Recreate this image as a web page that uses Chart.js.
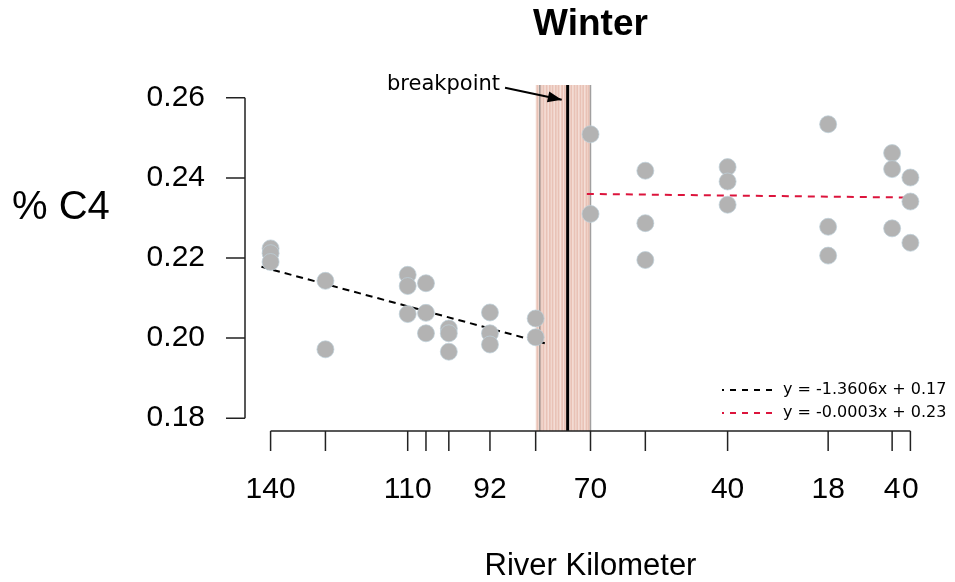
<!DOCTYPE html>
<html>
<head>
<meta charset="utf-8">
<script src="https://cdn.jsdelivr.net/npm/chart.js@4.4.1/dist/chart.umd.min.js"></script>
<style>
  body { margin: 0; background: #fff; }
  #wrap { width: 955px; height: 582px; position: relative; }
</style>
</head>
<body>
<div id="wrap"><canvas id="c4Chart"></canvas></div>
<script>
// river kilometre / %C4 samples (winter)
const pointKm = [140, 140, 140, 128, 128, 110, 110, 110, 106, 106, 106, 101, 101, 101, 92, 92, 92, 82, 82,
                 70, 70, 58, 58, 58, 40, 40, 40, 18, 18, 18, 4, 4, 4, 0, 0, 0];
const pointC4 = [0.2224, 0.2212, 0.2190, 0.2143, 0.1972, 0.2158, 0.2130, 0.2060, 0.2137, 0.2063, 0.2012,
                 0.2024, 0.2012, 0.1966, 0.2064, 0.2012, 0.1984, 0.2049, 0.2002,
                 0.2509, 0.2310, 0.2418, 0.2287, 0.2195, 0.2427, 0.2391, 0.2333, 0.2534, 0.2278, 0.2206,
                 0.2462, 0.2422, 0.2274, 0.2401, 0.2341, 0.2238];

// fitted segments either side of the breakpoint
const upFitKm = [142, 80];
const upFitC4 = [0.2178, 0.1987];
const downFitKm = [70.8, 0.5];
const downFitC4 = [0.2360, 0.2351];
const fitLabels = ['y = -1.3606x + 0.17', 'y = -0.0003x + 0.23'];

const breakpointKm = 75;
const bandKm = [82, 70];
const bootKm = [81.6, 80.9, 80.3, 79.6, 78.9, 78.3, 77.6, 77.0, 76.2, 75.6, 74.2, 73.5, 72.9, 72.2, 71.6, 70.9, 70.4];

const xTicks = [140, 128, 110, 106, 101, 92, 82, 70, 58, 40, 18, 4, 0];
const xLabelled = [140, 110, 92, 70, 40, 18, 4, 0];
const yTicks = [0.18, 0.20, 0.22, 0.24, 0.26];

const SANS = '"Liberation Sans", Arial, Helvetica, sans-serif';
const VERD = '"DejaVu Sans", Verdana, sans-serif';
const RED = '#dc143c';

const toXY = (xs, ys) => xs.map((x, i) => ({ x: x, y: ys[i] }));

const riverPlugin = {
    id: 'riverPlugin',
    beforeDatasetsDraw(chart) {
        const { ctx, chartArea, scales: { x, y } } = chart;
        const top = chartArea.top, bottom = chartArea.bottom;
        ctx.save();
        // bootstrap breakpoint band
        const bl = x.getPixelForValue(bandKm[0]), br = x.getPixelForValue(bandKm[1]);
        ctx.fillStyle = 'rgb(246,226,219)';
        ctx.fillRect(bl, top, br - bl, bottom - top);
        ctx.fillStyle = 'rgba(214,150,130,0.42)';
        bootKm.forEach(k => {
            const a = x.getPixelForValue(k + 0.2), b = x.getPixelForValue(k - 0.2);
            ctx.fillRect(a, top, b - a, bottom - top);
        });
        ctx.strokeStyle = 'rgba(140,140,140,0.8)';
        ctx.lineWidth = 1.5;
        [81.1, bandKm[1]].forEach(k => {
            const px = x.getPixelForValue(k);
            ctx.beginPath(); ctx.moveTo(px, top); ctx.lineTo(px, bottom); ctx.stroke();
        });
        // breakpoint line
        const bx = x.getPixelForValue(breakpointKm);
        ctx.strokeStyle = '#000';
        ctx.lineWidth = 3;
        ctx.beginPath(); ctx.moveTo(bx, top); ctx.lineTo(bx, bottom); ctx.stroke();
        ctx.restore();
    },
    afterDraw(chart) {
        const { ctx, chartArea, scales: { x, y } } = chart;
        ctx.save();
        // title centred over the plot region
        ctx.fillStyle = '#000';
        ctx.font = 'bold 37px ' + SANS;
        ctx.textAlign = 'center';
        ctx.textBaseline = 'middle';
        ctx.fillText('Winter', (chartArea.left + chartArea.right) / 2, 25);

        ctx.strokeStyle = '#222';
        ctx.lineWidth = 1.5;
        // R style y axis
        const yl = chartArea.left;
        ctx.beginPath();
        ctx.moveTo(yl, y.getPixelForValue(yTicks[0]));
        ctx.lineTo(yl, y.getPixelForValue(yTicks[yTicks.length - 1]));
        yTicks.forEach(v => {
            const py = y.getPixelForValue(v);
            ctx.moveTo(yl, py); ctx.lineTo(yl - 19, py);
        });
        ctx.stroke();
        // R style x axis
        const xb = chartArea.bottom;
        ctx.beginPath();
        ctx.moveTo(x.getPixelForValue(xTicks[0]), xb);
        ctx.lineTo(x.getPixelForValue(xTicks[xTicks.length - 1]), xb);
        xTicks.forEach(v => {
            const px = x.getPixelForValue(v);
            ctx.moveTo(px, xb); ctx.lineTo(px, xb + 20);
        });
        ctx.stroke();

        // y axis label, horizontal like the original
        ctx.font = '40px ' + SANS;
        ctx.textAlign = 'left';
        ctx.fillText('% C4', 12, 208);

        // breakpoint annotation
        ctx.font = '21px ' + VERD;
        ctx.fillText('breakpoint', 387, 85);
        const ax0 = x.getPixelForValue(88.7), ay0 = y.getPixelForValue(0.2625);
        const ax1 = x.getPixelForValue(76.3), ay1 = y.getPixelForValue(0.2595);
        const ang = Math.atan2(ay1 - ay0, ax1 - ax0);
        ctx.strokeStyle = '#000';
        ctx.lineWidth = 2;
        ctx.beginPath(); ctx.moveTo(ax0, ay0); ctx.lineTo(ax1, ay1); ctx.stroke();
        ctx.beginPath();
        ctx.moveTo(ax1, ay1);
        ctx.lineTo(ax1 - 15 * Math.cos(ang - 0.38), ay1 - 15 * Math.sin(ang - 0.38));
        ctx.lineTo(ax1 - 15 * Math.cos(ang + 0.38), ay1 - 15 * Math.sin(ang + 0.38));
        ctx.closePath();
        ctx.fillStyle = '#000';
        ctx.fill();

        // fit legend (bottom right)
        const colors = ['#000', RED];
        ctx.font = '16px ' + VERD;
        fitLabels.forEach((t, i) => {
            const ly = 390 + i * 23;
            ctx.strokeStyle = colors[i];
            ctx.lineWidth = 2;
            ctx.setLineDash([6, 6]);
            ctx.lineDashOffset = 4;
            ctx.beginPath(); ctx.moveTo(722, ly); ctx.lineTo(773, ly); ctx.stroke();
            ctx.setLineDash([]);
            ctx.fillStyle = '#000';
            ctx.fillText(t, 783, ly);
        });
        ctx.restore();
    }
};

const ctx = document.getElementById('c4Chart').getContext('2d');
new Chart(ctx, {
    type: 'scatter',
    data: {
        datasets: [
            {
                data: toXY(pointKm, pointC4),
                backgroundColor: '#b3b3b3',
                borderColor: 'rgba(190,208,218,0.9)',
                borderWidth: 0.8,
                pointRadius: 8.5,
                pointHoverRadius: 8.5
            },
            {
                type: 'line',
                data: toXY(upFitKm, upFitC4),
                borderColor: '#000',
                borderWidth: 2,
                borderDash: [7, 5],
                pointRadius: 0,
                fill: false
            },
            {
                type: 'line',
                data: toXY(downFitKm, downFitC4),
                borderColor: RED,
                borderWidth: 2,
                borderDash: [7, 6],
                pointRadius: 0,
                fill: false
            }
        ]
    },
    options: {
        responsive: true,
        maintainAspectRatio: false,
        animation: false,
        events: [],
        layout: { autoPadding: false, padding: { left: 0, right: 19, top: 85, bottom: 0 } },
        plugins: {
            legend: { display: false },
            tooltip: { enabled: false },
            title: { display: false }
        },
        scales: {
            x: {
                type: 'linear',
                reverse: true,
                min: -5.6,
                max: 145.6,
                grid: { display: false, drawTicks: false },
                border: { display: false },
                afterBuildTicks: s => { s.ticks = xTicks.map(v => ({ value: v })); },
                afterFit: s => { s.height = 151; s.paddingLeft = 0; s.paddingRight = 0; },
                ticks: {
                    autoSkip: false,
                    maxRotation: 0,
                    padding: 41,
                    color: '#000',
                    font: { family: SANS, size: 30 },
                    callback: v => xLabelled.includes(v) ? String(v) : ''
                },
                title: {
                    display: true,
                    text: 'River Kilometer',
                    color: '#000',
                    font: { family: SANS, size: 31, lineHeight: 1.0 },
                    padding: { top: 0, bottom: 0 }
                }
            },
            y: {
                min: 0.1768,
                max: 0.2632,
                grid: { display: false, drawTicks: false },
                border: { display: false },
                afterBuildTicks: s => { s.ticks = yTicks.map(v => ({ value: v })); },
                afterFit: s => { s.width = 245; s.paddingTop = 0; s.paddingBottom = 0; },
                ticks: {
                    padding: 40,
                    color: '#000',
                    font: { family: SANS, size: 30 },
                    callback: v => v.toFixed(2)
                }
            }
        }
    },
    plugins: [riverPlugin]
});
</script>
</body>
</html>
